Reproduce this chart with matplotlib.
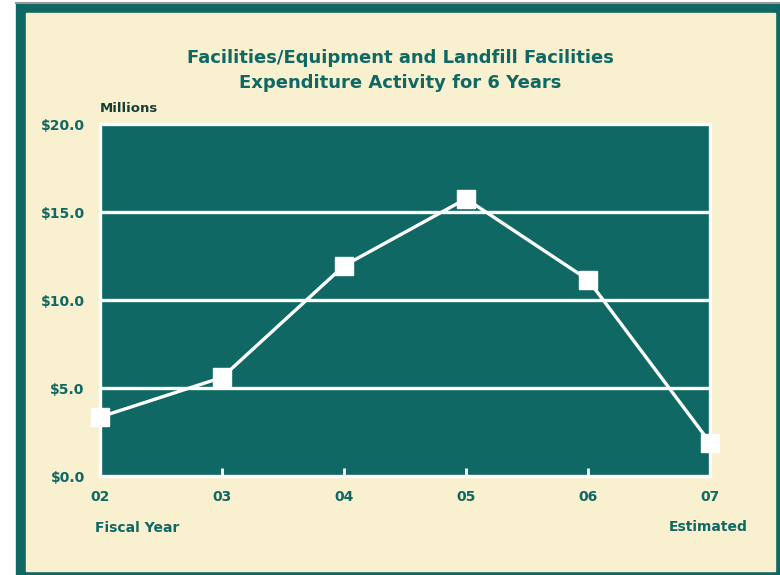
import matplotlib.pyplot as plt
from matplotlib.patches import Rectangle

TEAL = "#0f6864"
CREAM = "#f9f0cf"
DARK = "#173f36"

years = ["02", "03", "04", "05", "06", "07"]
spending = [3.35, 5.6, 11.95, 15.75, 11.15, 1.9]
y_ticks = [0, 5, 10, 15, 20]
y_labels = ["$0.0", "$5.0", "$10.0", "$15.0", "$20.0"]

W, H = 780, 575
plt.rcParams["font.family"] = ["DejaVu Sans"]
fig = plt.figure(figsize=(W / 100, H / 100), dpi=100)


def px(x, y, w, h):
    # pixel box (top-left origin) -> figure fraction
    return (x / W, 1 - (y + h) / H), w / W, h / H


# outer frame
xy, w, h = px(16, 3, 764, 572)
fig.patches.append(Rectangle(xy, w, h, transform=fig.transFigure, color=TEAL, zorder=-2))
xy, w, h = px(26, 13, 749, 558)
fig.patches.append(Rectangle(xy, w, h, transform=fig.transFigure, color=CREAM, zorder=-1))
fig.add_artist(plt.Line2D([16 / W, 1], [1 - 3 / H, 1 - 3 / H], color="#999999", lw=1.5, zorder=-1))

ax = fig.add_axes([100 / W, 1 - 476 / H, 610 / W, 352 / H])
ax.set_facecolor(TEAL)
x = list(range(len(years)))
for v in [5, 10, 15]:
    ax.axhline(v, color="white", lw=2.4, zorder=1)
ax.plot(x, spending, color="white", lw=2.4, marker="s", markersize=13.5,
        markerfacecolor="white", markeredgecolor="white", clip_on=False, zorder=3)

ax.set_xlim(0, 5)
ax.set_ylim(0, 20)
for s in ax.spines.values():
    s.set_color("white")
    s.set_linewidth(2.4)
ax.set_xticks(x)
ax.set_xticklabels(years)
ax.set_yticks(y_ticks)
ax.set_yticklabels(y_labels)
ax.tick_params(axis="x", direction="in", length=6, width=2, color="white",
               pad=10, labelsize=10, labelcolor=TEAL)
ax.tick_params(axis="y", length=0, pad=11, labelsize=10, labelcolor=TEAL)
for lab in ax.get_xticklabels() + ax.get_yticklabels():
    lab.set_fontweight("bold")

fig.text(400 / W, 1 - 58 / H, "Facilities/Equipment and Landfill Facilities",
         ha="center", va="center", fontsize=13, fontweight="bold", color=TEAL)
fig.text(400 / W, 1 - 83 / H, "Expenditure Activity for 6 Years",
         ha="center", va="center", fontsize=13, fontweight="bold", color=TEAL)
fig.text(100 / W, 1 - 108 / H, "Millions", ha="left", va="center",
         fontsize=9.5, fontweight="bold", color=DARK)
fig.text(137 / W, 1 - 528 / H, "Fiscal Year", ha="center", va="center",
         fontsize=10, fontweight="bold", color=TEAL)
fig.text(708 / W, 1 - 527 / H, "Estimated", ha="center", va="center",
         fontsize=10, fontweight="bold", color=TEAL)

fig.savefig("out.png", dpi=100, facecolor="white")
